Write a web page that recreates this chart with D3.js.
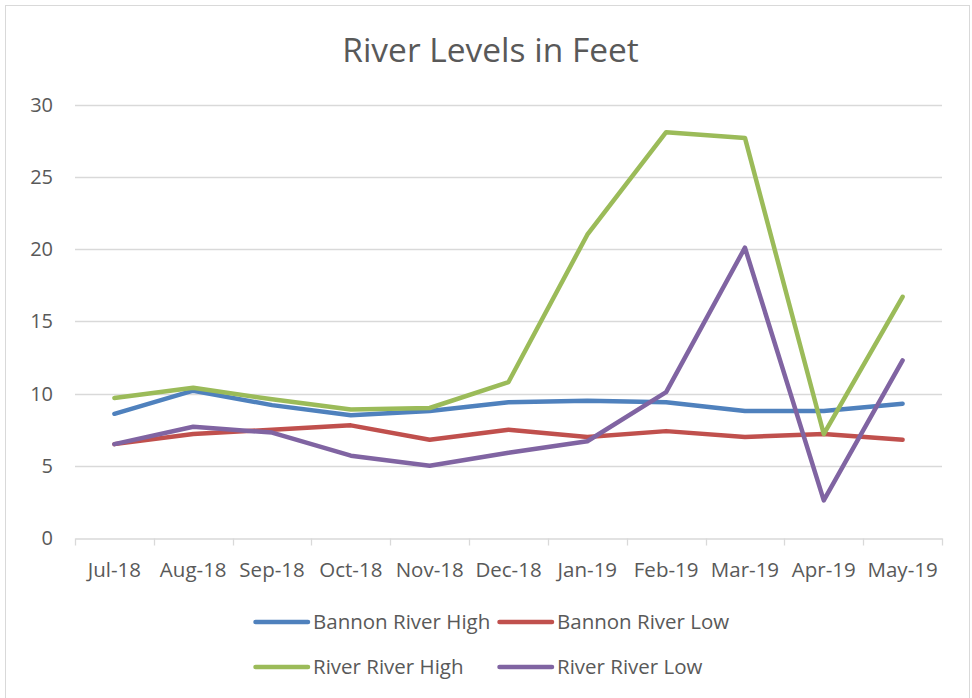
<!DOCTYPE html>
<html><head><meta charset="utf-8">
<script src="https://cdn.jsdelivr.net/npm/d3@7"></script>
<style>body{margin:0;background:#fff}svg{display:block}</style>
</head><body><svg id="c" width="972" height="698"></svg>
<script>
const categories = ["Jul-18","Aug-18","Sep-18","Oct-18","Nov-18","Dec-18","Jan-19","Feb-19","Mar-19","Apr-19","May-19"];
const bannonHigh = [8.6,10.2,9.2,8.5,8.8,9.4,9.5,9.4,8.8,8.8,9.3];
const bannonLow  = [6.5,7.2,7.5,7.8,6.8,7.5,7.0,7.4,7.0,7.2,6.8];
const riverHigh  = [9.7,10.4,9.6,8.9,9.0,10.8,21.0,28.1,27.7,7.2,16.7];
const riverLow   = [6.5,7.7,7.3,5.7,5.0,5.9,6.7,10.1,20.1,2.6,12.3];
const seriesNames = ["Bannon River High","Bannon River Low","River River High","River River Low"];
const yTicks = [0,5,10,15,20,25,30];

const series = [
  {name:seriesNames[0], values:bannonHigh, color:"#4F81BD"},
  {name:seriesNames[1], values:bannonLow,  color:"#C0504D"},
  {name:seriesNames[2], values:riverHigh,  color:"#9BBB59"},
  {name:seriesNames[3], values:riverLow,   color:"#8064A2"}
];

const svg = d3.select("#c");
const font = "'Open Sans', 'Liberation Sans', sans-serif";
const textColor = "#595959";

svg.append("rect").attr("x",5.5).attr("y",5.5).attr("width",964).attr("height",700)
  .attr("fill","#fff").attr("stroke","#d9d9d9").attr("stroke-width",1);

const L=75, R=942, T=104.7, B=538;
const x = d3.scaleBand().domain(categories).range([L,R]);
const y = d3.scaleLinear().domain([0,30]).range([B,T]);

svg.append("text").attr("x",490.5).attr("y",62.3).attr("text-anchor","middle")
  .attr("font-family",font).attr("font-size",33.5).attr("font-weight",400)
  .attr("fill",textColor).text("River Levels in Feet");

// grid
svg.append("g").selectAll("line").data(yTicks.filter(d=>d>0)).join("line")
  .attr("x1",L).attr("x2",R).attr("y1",d=>Math.round(y(d))+0.5).attr("y2",d=>Math.round(y(d))+0.5)
  .attr("stroke","#d9d9d9").attr("stroke-width",1.3);

// y labels
svg.append("g").selectAll("text").data(yTicks).join("text")
  .attr("x",53).attr("y",d=>y(d)+7).attr("text-anchor","end")
  .attr("font-family",font).attr("font-size",20).attr("fill",textColor).text(d=>d);

// x axis
const xa = svg.append("g").attr("transform",`translate(0,${Math.round(B)+0.5})`)
  .call(d3.axisBottom(x).tickSize(0).tickPadding(0));
xa.select(".domain").attr("stroke","#d9d9d9").attr("stroke-width",1.3);
xa.selectAll(".tick text").attr("dy",null).attr("y",38.5)
  .attr("font-family",font).attr("font-size",20.5).attr("fill",textColor);
const edges = categories.map(c=>x(c)).concat([x(categories[categories.length-1])+x.bandwidth()]);
xa.selectAll(".edge").data(edges).join("line").attr("class","edge")
  .attr("x1",d=>Math.round(d)+0.5).attr("x2",d=>Math.round(d)+0.5).attr("y1",0).attr("y2",7)
  .attr("stroke","#d9d9d9").attr("stroke-width",1.3);

const line = d3.line().x((d,i)=>x(categories[i])+x.bandwidth()/2).y(d=>y(d));
svg.append("g").selectAll("path").data(series).join("path")
  .attr("d",d=>line(d.values)).attr("fill","none").attr("stroke",d=>d.color)
  .attr("stroke-width",4.5).attr("stroke-linejoin","round").attr("stroke-linecap","round");

// legend
const legPos = [[253,622],[497,622],[253,667],[497,667]];
const lg = svg.append("g").selectAll("g").data(series).join("g")
  .attr("transform",(d,i)=>`translate(${legPos[i][0]},${legPos[i][1]})`);
lg.append("line").attr("x1",2.5).attr("x2",55).attr("y1",0).attr("y2",0)
  .attr("stroke",d=>d.color).attr("stroke-width",4.5).attr("stroke-linecap","round");
lg.append("text").attr("x",60).attr("y",7).attr("font-family",font).attr("font-size",20.5)
  .attr("fill",textColor).text(d=>d.name);
</script></body></html>
